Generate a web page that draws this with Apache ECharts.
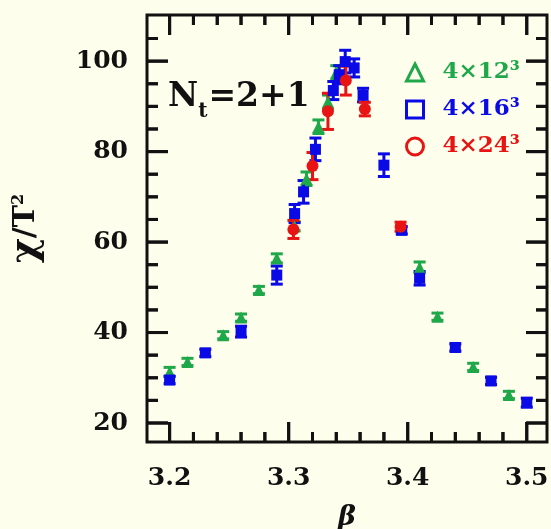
<!DOCTYPE html>
<html>
<head>
<meta charset="utf-8">
<script src="https://cdn.jsdelivr.net/npm/echarts@6/dist/echarts.min.js"></script>
<style>
  html, body { margin: 0; padding: 0; background: #fefeec; }
  #chart { width: 551px; height: 529px; }
</style>
</head>
<body>
<div id="chart"></div>
<script>
// Axis ticks
const xMajorTicks = [3.2, 3.3, 3.4, 3.5];
const xMinorTicks = [3.22, 3.24, 3.26, 3.28, 3.32, 3.34, 3.36, 3.38, 3.42, 3.44, 3.46, 3.48];
const yMajorTicks = [20, 40, 60, 80, 100];
const yMinorTicks = [25, 30, 35, 45, 50, 55, 65, 70, 75, 85, 90, 95, 105];

// 4x12^3 lattice
const beta12 = [3.200, 3.215, 3.245, 3.260, 3.275, 3.290, 3.305, 3.315, 3.325, 3.333, 3.340, 3.410, 3.425, 3.455, 3.485];
const chi12  = [31.3, 33.5, 39.4, 43.3, 49.4, 56.4, 63.5, 74.0, 85.5, 91.0, 97.5, 54.4, 43.5, 32.4, 26.2];
const err12  = [1.0, 0.8, 0.8, 0.8, 0.8, 1.0, 1.0, 1.5, 1.5, 1.5, 1.5, 1.2, 0.8, 0.8, 0.8];

// 4x16^3 lattice
const beta16 = [3.200, 3.230, 3.260, 3.290, 3.305, 3.3125, 3.3225, 3.3375, 3.3425, 3.3475, 3.355, 3.3625, 3.380, 3.395, 3.410, 3.440, 3.470, 3.500];
const chi16  = [29.5, 35.5, 40.2, 52.7, 66.3, 71.1, 80.5, 93.5, 97.0, 99.9, 98.5, 92.5, 77.0, 62.6, 52.0, 36.7, 29.3, 24.5];
const err16  = [0.8, 0.8, 1.2, 2.0, 2.0, 2.5, 2.5, 2.0, 2.0, 2.5, 2.0, 1.5, 2.5, 0.8, 1.5, 0.8, 0.8, 1.0];

// 4x24^3 lattice
const beta24 = [3.304, 3.320, 3.333, 3.348, 3.364, 3.394];
const chi24  = [62.8, 76.8, 88.9, 95.7, 89.4, 63.4];
const err24  = [2.0, 3.0, 4.0, 3.2, 1.5, 1.0];

const legendNames = ['4×12³', '4×16³', '4×24³'];
const colors = ['#1fa84a', '#0a0ae6', '#e81414'];

const FONT = 'DejaVu Serif';
const INK = '#111';

const xRange = { min: 3.181, max: 3.517 };
const yRange = { min: 15.8, max: 110.2 };
const xMid = (xRange.min + xRange.max) / 2;
const yMid = (yRange.min + yRange.max) / 2;

function pts(b, c, e) {
  return b.map((v, i) => [v, c[i], e[i]]);
}

// Vertical error bars with caps
function errorSeries(data, color) {
  return {
    type: 'custom',
    xAxisIndex: 0, yAxisIndex: 0,
    silent: true,
    data: data,
    renderItem: function (params, api) {
      const x = api.value(0), y = api.value(1), e = api.value(2);
      const hi = api.coord([x, y + e]);
      const lo = api.coord([x, y - e]);
      const w = 6;
      const st = { stroke: color, lineWidth: 3 };
      return {
        type: 'group',
        children: [
          { type: 'line', shape: { x1: hi[0], y1: hi[1], x2: lo[0], y2: lo[1] }, style: st },
          { type: 'line', shape: { x1: hi[0] - w, y1: hi[1], x2: hi[0] + w, y2: hi[1] }, style: st },
          { type: 'line', shape: { x1: lo[0] - w, y1: lo[1], x2: lo[0] + w, y2: lo[1] }, style: st }
        ]
      };
    }
  };
}

// Inward tick marks on both opposite frame edges (item anchored inside the plot)
function tickSeries(values, dim, len) {
  return {
    type: 'custom',
    xAxisIndex: 0, yAxisIndex: 0,
    silent: true,
    data: dim === 'x' ? values.map(v => [v, yMid, 0]) : values.map(v => [xMid, v, 0]),
    renderItem: function (params, api) {
      const st = { stroke: INK, lineWidth: 3 };
      if (dim === 'x') {
        const xv = api.value(0);
        const b = api.coord([xv, yRange.min]);
        const t = api.coord([xv, yRange.max]);
        return {
          type: 'group',
          children: [
            { type: 'line', shape: { x1: b[0], y1: b[1], x2: b[0], y2: b[1] - len }, style: st },
            { type: 'line', shape: { x1: t[0], y1: t[1], x2: t[0], y2: t[1] + len }, style: st }
          ]
        };
      }
      const yv = api.value(1);
      const l = api.coord([xRange.min, yv]);
      const r = api.coord([xRange.max, yv]);
      return {
        type: 'group',
        children: [
          { type: 'line', shape: { x1: l[0], y1: l[1], x2: l[0] + len, y2: l[1] }, style: st },
          { type: 'line', shape: { x1: r[0], y1: r[1], x2: r[0] - len, y2: r[1] }, style: st }
        ]
      };
    }
  };
}

// Same tick marks as thin rectangles sitting on the frame edge
function tickMarks(values, side, len) {
  const data = side === 'bottom' ? values.map(v => [v, yRange.min])
    : side === 'top' ? values.map(v => [v, yRange.max])
    : side === 'left' ? values.map(v => [xRange.min, v])
    : values.map(v => [xRange.max, v]);
  const vertical = side === 'bottom' || side === 'top';
  const offset = side === 'bottom' ? [0, -len / 2] : side === 'top' ? [0, len / 2]
    : side === 'left' ? [len / 2, 0] : [-len / 2, 0];
  return {
    type: 'scatter',
    xAxisIndex: 0, yAxisIndex: 0,
    silent: true, clip: false, z: 3,
    data: data,
    symbol: 'rect',
    symbolSize: vertical ? [3, len] : [len, 3],
    symbolOffset: offset,
    itemStyle: { color: INK, opacity: 1 },
    emphasis: { disabled: true }
  };
}

function pointSeries(name, data, color, symbol, size) {
  return {
    name: name,
    type: 'scatter',
    xAxisIndex: 0, yAxisIndex: 0,
    data: data,
    symbol: symbol,
    symbolSize: size,
    itemStyle: { color: color, opacity: 1 },
    emphasis: { disabled: true }
  };
}

const chart = echarts.init(document.getElementById('chart'));
chart.setOption({
  backgroundColor: '#fefeec',
  animation: false,
  grid: {
    left: 147, right: 4, top: 15, bottom: 87, outerBoundsMode: 'none',
    show: true, borderColor: INK, borderWidth: 3, backgroundColor: 'transparent'
  },
  xAxis: {
    type: 'value', ...xRange,
    axisLine: { show: false },
    axisTick: { show: false },
    axisLabel: {
      show: true, customValues: xMajorTicks, margin: 24,
      formatter: v => v.toFixed(1),
      color: INK, fontFamily: FONT, fontWeight: 'bold', fontSize: 25
    },
    splitLine: { show: false },
    name: 'β', nameLocation: 'middle', nameGap: 62,
    nameTextStyle: { color: INK, fontFamily: FONT, fontWeight: 'bold', fontStyle: 'italic', fontSize: 27 }
  },
  yAxis: {
    type: 'value', ...yRange,
    axisLine: { show: false },
    axisTick: { show: false },
    axisLabel: {
      show: true, customValues: yMajorTicks, margin: 19,
      color: INK, fontFamily: FONT, fontWeight: 'bold', fontSize: 25
    },
    splitLine: { show: false },
    name: '{g|χ}{n|/T}{p|2}', nameLocation: 'middle', nameGap: 102,
    nameTextStyle: {
      color: INK, fontFamily: FONT, fontWeight: 'bold', fontSize: 30,
      rich: {
        g: { color: INK, fontFamily: FONT, fontWeight: 'bold', fontSize: 38 },
        n: { color: INK, fontFamily: FONT, fontWeight: 'bold', fontSize: 30 },
        p: { color: INK, fontFamily: FONT, fontWeight: 'bold', fontSize: 16, padding: [0, 0, 15, 0] }
      }
    }
  },
  legend: {
    orient: 'vertical', left: 400, top: 56,
    itemWidth: 17, itemHeight: 17, itemGap: 14,
    selectedMode: false,
    formatter: n => '{g|}' + n,
    textStyle: { fontFamily: FONT, fontWeight: 'bold', fontSize: 23, rich: { g: { width: 14 } } },
    data: legendNames.map((n, i) => ({
      name: n,
      icon: ['triangle', 'rect', 'circle'][i],
      itemStyle: { color: 'rgba(0,0,0,0)', borderColor: colors[i], borderWidth: 3 },
      textStyle: { color: colors[i] }
    }))
  },
  graphic: [{
    type: 'text', left: 168, top: 81,
    style: {
      text: '{n|N}{s|t}{n|=2+1}',
      rich: {
        n: { fontFamily: FONT, fontWeight: 'bold', fontSize: 33, fill: INK },
        s: { fontFamily: FONT, fontWeight: 'bold', fontSize: 20, fill: INK, padding: [28, 1, 0, 0] }
      }
    }
  }],
  series: [
    errorSeries(pts(beta12, chi12, err12), colors[0]),
    pointSeries(legendNames[0], pts(beta12, chi12, err12), colors[0], 'triangle', 12),
    errorSeries(pts(beta16, chi16, err16), colors[1]),
    pointSeries(legendNames[1], pts(beta16, chi16, err16), colors[1], 'rect', 11),
    errorSeries(pts(beta24, chi24, err24), colors[2]),
    pointSeries(legendNames[2], pts(beta24, chi24, err24), colors[2], 'circle', 12),
    tickSeries(xMajorTicks, 'x', 20),
    tickSeries(xMinorTicks, 'x', 10),
    tickSeries(yMajorTicks, 'y', 21),
    tickSeries(yMinorTicks, 'y', 11),
    tickMarks(xMajorTicks, 'bottom', 20),
    tickMarks(xMajorTicks, 'top', 20),
    tickMarks(xMinorTicks, 'bottom', 10),
    tickMarks(xMinorTicks, 'top', 10),
    tickMarks(yMajorTicks, 'left', 21),
    tickMarks(yMajorTicks, 'right', 21),
    tickMarks(yMinorTicks, 'left', 11),
    tickMarks(yMinorTicks, 'right', 11)
  ]
});
</script>
</body>
</html>
